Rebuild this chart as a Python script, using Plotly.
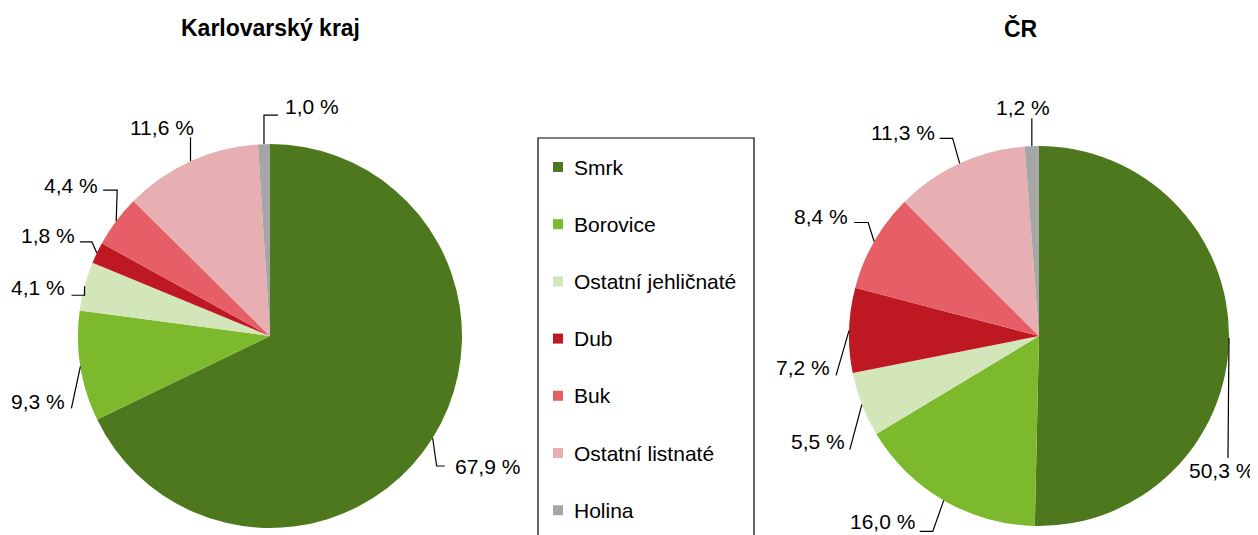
import math
import plotly.graph_objects as go

# ---------------- data ----------------
categories = ["Smrk", "Borovice", "Ostatní jehličnaté", "Dub", "Buk", "Ostatní listnaté", "Holina"]
karlovarsky = [67.9, 9.3, 4.1, 1.8, 4.4, 11.6, 1.0]
cr = [50.3, 16.0, 5.5, 7.2, 8.4, 11.3, 1.2]
titles = ["Karlovarský kraj", "ČR"]

# ---------------- style ----------------
colors = ["#4E781E", "#7DB92D", "#D3E6B9", "#BE1922", "#E65F67", "#E8AFB2", "#A6A6A6"]
W, H = 1258, 535
PAGE_OFFSET = 8  # default body margin of the html page
FONT = "Liberation Sans, Arial, sans-serif"
LABEL_SIZE = 21

# pie geometry in window pixels (centre x, centre y, radius)
pies = [dict(cx=270, cy=336, r=192, title_x=270), dict(cx=1039, cy=336, r=190, title_x=1021)]

# label placement: elbow offset from slice edge, horizontal tick, text anchor, text offset
label_layout = [
    [  # Karlovarský kraj
        dict(elbow=(4, 28), tick=8, anchor="left", off=(8, 0)),
        dict(elbow=(-9, 42), tick=0, anchor="right", off=(-4, -7)),
        dict(elbow=(0, 9), tick=-13, anchor="right", off=(-5, -8)),
        dict(elbow=(-5, -11), tick=-12, anchor="right", off=(-3, -6)),
        dict(elbow=(1, -31), tick=-14, anchor="right", off=(-3, -5)),
        dict(elbow=(0, -24), tick=0, anchor="right", off=(5, -10)),
        dict(elbow=(0, -29), tick=14, anchor="left", off=(5, -9)),
    ],
    [  # ČR
        dict(elbow=(-1, 120), tick=0, anchor="center", off=(-6, 12)),
        dict(elbow=(-11, 31), tick=-13, anchor="right", off=(-3, -10)),
        dict(elbow=(-12, 45), tick=0, anchor="right", off=(-3, -8)),
        dict(elbow=(-13, 45), tick=0, anchor="right", off=(-4, -8)),
        dict(elbow=(-6, -19), tick=-14, anchor="right", off=(-4, -6)),
        dict(elbow=(-7, -25), tick=-13, anchor="right", off=(-3, -6)),
        dict(elbow=(0, -28), tick=0, anchor="center", off=(-9, -11)),
    ],
]


def px(x):
    return (x - PAGE_OFFSET) / W


def py(y):
    return 1 - (y - PAGE_OFFSET) / H


fig = go.Figure()
annotations = []
shapes = []

for idx, (values, geo, title) in enumerate(zip([karlovarsky, cr], pies, titles)):
    cx, cy, r = geo["cx"], geo["cy"], geo["r"]
    fig.add_trace(go.Pie(
        labels=categories,
        values=values,
        sort=False,
        direction="clockwise",
        rotation=0,
        marker=dict(colors=colors, line=dict(width=0)),
        textinfo="none",
        hoverinfo="label+percent",
        showlegend=False,
        domain=dict(x=[px(cx - r), px(cx + r)], y=[py(cy + r), py(cy - r)]),
    ))
    annotations.append(dict(
        x=px(geo["title_x"]), y=py(28), xref="paper", yref="paper",
        text="<b>" + title + "</b>", showarrow=False,
        font=dict(family=FONT, size=23, color="#000000"),
        xanchor="center", yanchor="middle",
    ))
    total = sum(values)
    cum = 0.0
    for v, lay in zip(values, label_layout[idx]):
        mid = (cum + v / 2) / total * 2 * math.pi
        cum += v
        ex = cx + r * math.sin(mid)
        ey = cy - r * math.cos(mid)
        bx = ex + lay["elbow"][0]
        by = ey + lay["elbow"][1]
        tx = bx + lay["tick"]
        ty = by
        path = "M {:.5f} {:.5f} L {:.5f} {:.5f}".format(px(ex), py(ey), px(bx), py(by))
        if lay["tick"] != 0:
            path += " L {:.5f} {:.5f}".format(px(tx), py(ty))
        shapes.append(dict(type="path", xref="paper", yref="paper", path=path,
                           line=dict(color="#000000", width=1.2)))
        label = ("{:.1f}".format(v)).replace(".", ",") + " %"
        annotations.append(dict(
            x=px(tx + lay["off"][0]), y=py(ty + lay["off"][1]), xref="paper", yref="paper",
            text=label, showarrow=False,
            font=dict(family=FONT, size=LABEL_SIZE, color="#000000"),
            xanchor=lay["anchor"], yanchor="middle",
        ))

# ---------------- manual legend ----------------
leg_x0, leg_x1, leg_y0 = 538, 754, 138
shapes.append(dict(type="rect", xref="paper", yref="paper",
                   x0=px(leg_x0), x1=px(leg_x1), y0=py(leg_y0), y1=py(H + 40),
                   line=dict(color="#000000", width=1.2), fillcolor="rgba(0,0,0,0)"))
item_y0, item_gap = 167, 57.2
for i, (cat, col) in enumerate(zip(categories, colors)):
    yc = item_y0 + i * item_gap
    shapes.append(dict(type="rect", xref="paper", yref="paper",
                       x0=px(553), x1=px(563), y0=py(yc + 5), y1=py(yc - 5),
                       line=dict(width=0), fillcolor=col))
    annotations.append(dict(
        x=px(572), y=py(yc), xref="paper", yref="paper", text=cat, showarrow=False,
        font=dict(family=FONT, size=LABEL_SIZE, color="#000000"),
        xanchor="left", yanchor="middle",
    ))

fig.update_layout(
    width=W, height=H,
    margin=dict(l=0, r=0, t=0, b=0),
    paper_bgcolor="#FFFFFF", plot_bgcolor="#FFFFFF",
    showlegend=False,
    annotations=annotations,
    shapes=shapes,
)

fig.write_html("out.html")
